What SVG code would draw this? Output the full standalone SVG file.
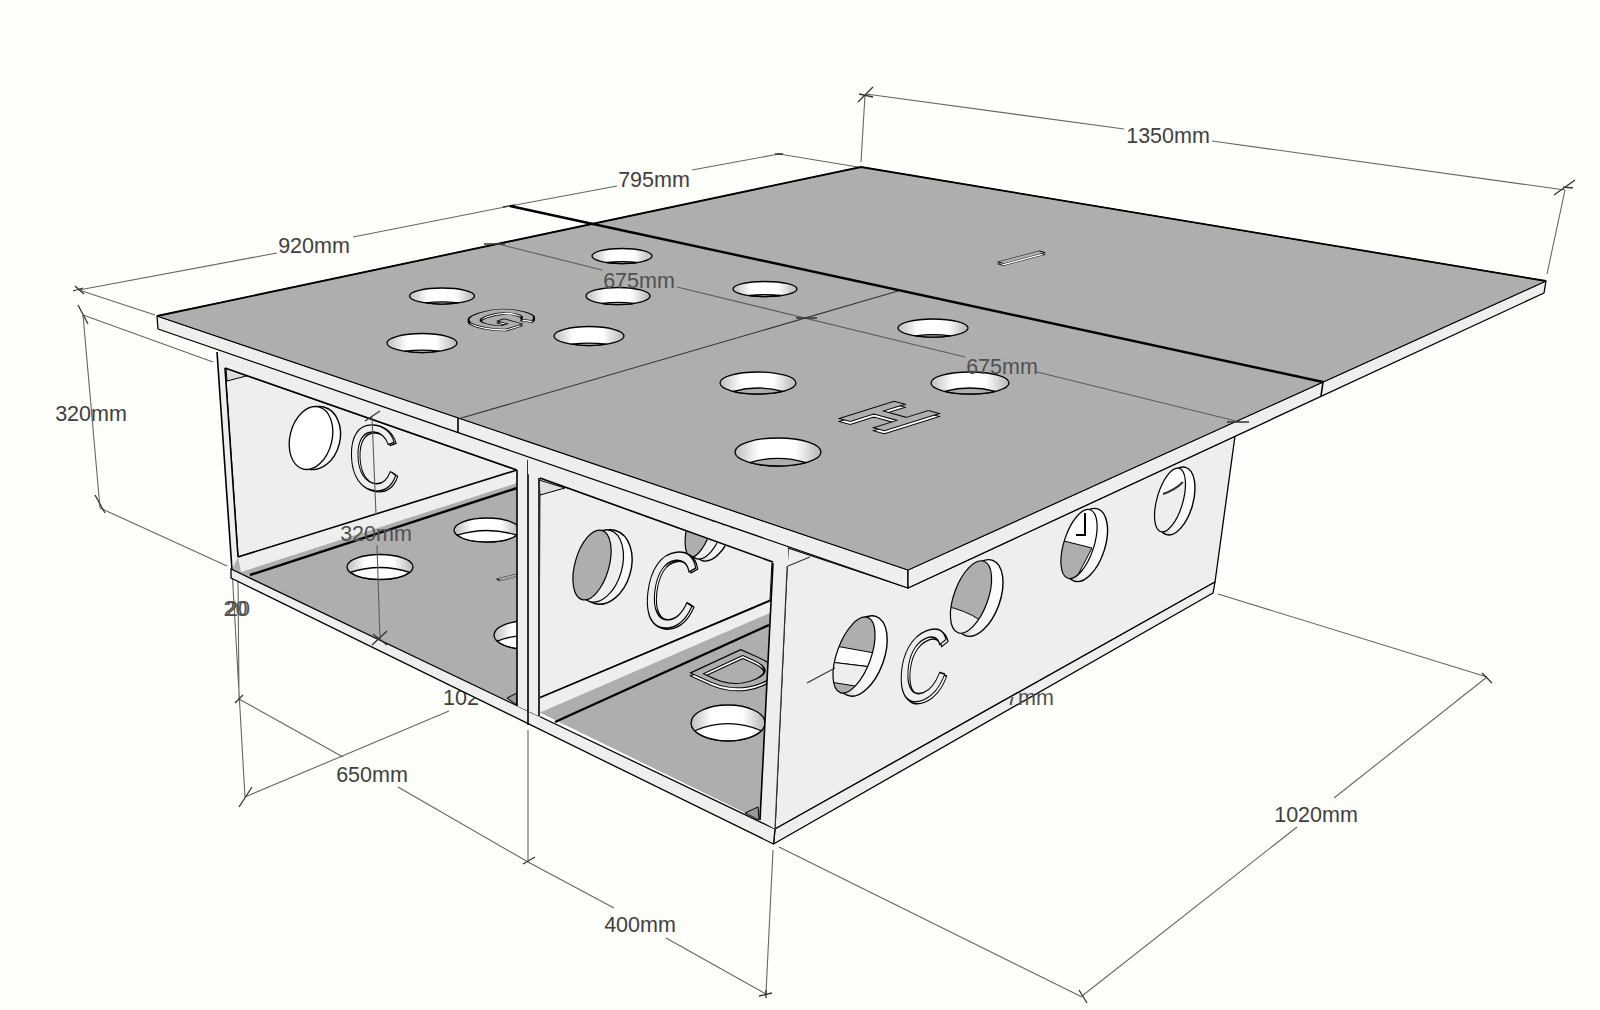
<svg xmlns="http://www.w3.org/2000/svg" width="1600" height="1010" viewBox="0 0 1600 1010">
<style>
.dim{fill:none;stroke:#666;stroke-width:1.1}
.dimo{fill:none;stroke:#5c5c5c;stroke-width:1.1}
.tick{fill:none;stroke:#333;stroke-width:1.3}
.lab{font-family:"Liberation Sans",Arial,sans-serif;font-size:21.5px;fill:#404040;text-anchor:middle}
.labo{font-family:"Liberation Sans",Arial,sans-serif;font-size:21.5px;fill:#505050;text-anchor:middle}
.lt{fill:#eee;stroke:#000;stroke-width:1.3;stroke-linejoin:round}
.fl{fill:#eee;stroke:none}
.gr{fill:#aeaeae;stroke:#000;stroke-width:1;stroke-linejoin:round}
.gn{fill:#aeaeae;stroke:none}
.bl{fill:none;stroke:#000;stroke-width:1.6}
.bk{fill:none;stroke:#000;stroke-width:2.4}
.thin{fill:none;stroke:#333;stroke-width:1.1}
.let{font-family:"Liberation Sans",Arial,sans-serif;font-size:100px;stroke:#000;stroke-width:1.5;stroke-linejoin:round}
.bd{font-weight:bold;stroke-width:2.2}
.e{vector-effect:non-scaling-stroke;stroke:#000;stroke-width:1.3}
.w{fill:url(#gw);stroke:#000;stroke-width:1.4}
</style>
<defs>
<linearGradient id="hg" x1="0" x2="1" y1="0" y2="0"><stop offset="0" stop-color="#bdbdbd"/><stop offset=".28" stop-color="#fff"/><stop offset=".7" stop-color="#fff"/><stop offset="1" stop-color="#b4b4b4"/></linearGradient>
<linearGradient id="gw" x1="0" y1="1" x2=".7" y2="0"><stop offset="0" stop-color="#8c8c8c"/><stop offset=".35" stop-color="#f2f2f2"/><stop offset="1" stop-color="#fff"/></linearGradient>
<g id="hs"><ellipse rx="1" ry="1" fill="url(#hg)" class="e"/><path d="M-.5 .866Q0 .62 .5 .866A1 1 0 0 1 -.5 .866Z" fill="#aeaeae" class="e"/></g>
<g id="hm"><ellipse rx="1" ry="1" fill="url(#hg)" class="e"/><path d="M-.65 .76Q0 .15 .65 .76A1 1 0 0 1 -.65 .76Z" fill="#aeaeae" class="e"/></g>
<g id="hf"><ellipse rx="1" ry="1" fill="url(#hg)" class="e"/><path d="M-.9 .43Q0 -.35 .9 .43A1 1 0 0 1 -.9 .43Z" fill="#fff" class="e"/></g>
<clipPath id="ca"><ellipse cx="854" cy="655" rx="17" ry="40" transform="rotate(20 854 655)"/></clipPath>
<clipPath id="cb"><ellipse cx="971" cy="597" rx="17" ry="38" transform="rotate(20 971 597)"/></clipPath>
<clipPath id="cc"><ellipse cx="1079" cy="544" rx="15" ry="36" transform="rotate(18 1079 544)"/></clipPath>
<clipPath id="cd"><ellipse cx="1170" cy="500" rx="13" ry="33" transform="rotate(16 1170 500)"/></clipPath>
<clipPath id="c7"><path d="M1008 697H1019V680H1065V712H1008Z"/></clipPath>
</defs>
<rect width="1600" height="1010" fill="#fefffb"/>

<g id="dimensions-behind">
<path class="dim" d="M79 290L277 253M353 237L510 206M510 206L617 186M692 170L779 154L858 167"/>
<path class="dim" d="M79 290L155 315M83 315L213 362M83 315L100 508M100 508L227 566"/>
<path class="dim" d="M865 95L861 162M866 94L1124 129M1212 141L1565 190M1565 190L1547 274"/>
<path class="dim" d="M232 569L245 797M238 577L239 699M239 699L343 757M398 787L528 862M528 730V862M528 862L614 908M666 938L766 994M773 850L766 993M779 847L1082 997M1082 996L1297 827M1334 798L1487 677M1218 594L1487 677M245 797L449 711"/>
<path class="tick" d="M73 291L83 288M75 286L84 294M78 305L88 324M95 495L105 513M235 703L243 695M239 807L252 787M503 207L515 205M775 154L783 154M858 102L873 87M859 94L873 97M1554 195L1575 180M1563 187L1573 188M523 864L535 857M759 996L772 993M766 990V998M1079 990L1087 1003M1482 673L1492 683"/>
<text class="lab" x="461" y="705">102</text>
</g>

<g id="model">
<path class="lt" d="M788 548L908 588L1235 436L1215 582L775 829Z"/>
<g id="wall-holes">
<ellipse class="w" cx="862" cy="656" rx="22" ry="42" transform="rotate(20 862 656)"/>
<g clip-path="url(#ca)"><rect x="830" y="610" width="60" height="90" fill="#aeaeae"/><path d="M830 645L880 654V668L830 662Z" fill="#fff" stroke="#000"/><path d="M830 662L880 668V690L830 682Z" fill="#eee" stroke="#000"/></g>
<ellipse cx="854" cy="655" rx="17" ry="40" transform="rotate(20 854 655)" fill="none" stroke="#000" stroke-width="1.2"/>
<ellipse class="w" cx="979" cy="598" rx="21" ry="40" transform="rotate(20 979 598)"/>
<g clip-path="url(#cb)"><rect x="945" y="555" width="60" height="85" fill="#aeaeae"/><path d="M945 606Q965 610 980 620L965 640H945Z" fill="#eee" stroke="#000"/></g>
<ellipse cx="971" cy="597" rx="17" ry="38" transform="rotate(20 971 597)" fill="none" stroke="#000" stroke-width="1.2"/>
<ellipse class="w" cx="1086" cy="545" rx="19" ry="38" transform="rotate(18 1086 545)"/>
<g clip-path="url(#cc)"><rect x="1060" y="505" width="50" height="80" fill="#fff"/><path d="M1060 540L1092 548L1070 590H1060Z" fill="#aeaeae" stroke="#000"/><path d="M1085 513V535H1076" fill="none" stroke="#000" stroke-width="2"/></g>
<ellipse cx="1079" cy="544" rx="15" ry="36" transform="rotate(18 1079 544)" fill="none" stroke="#000" stroke-width="1.2"/>
<ellipse class="w" cx="1176" cy="501" rx="17" ry="35" transform="rotate(16 1176 501)"/>
<g clip-path="url(#cd)"><rect x="1150" y="465" width="40" height="75" fill="#eee"/><path d="M1150 465H1190V482Q1175 488 1163 494L1150 496Z" fill="#fff"/><path d="M1163 494Q1175 490 1183 482" fill="none" stroke="#333" stroke-width="2"/></g>
<ellipse cx="1170" cy="500" rx="13" ry="33" transform="rotate(16 1170 500)" fill="none" stroke="#000" stroke-width="1.2"/>
<path class="thin" d="M807 683L835 668M788 566L810 557"/>
</g>
<text class="let" transform="matrix(.7 -.28 -.05 .98 898 712)" fill="#fff">C</text>
<text class="let" transform="matrix(.7 -.28 -.05 .98 896 710)" fill="#eee">C</text>

<path class="lt" d="M775 829L1215 582L1213 593L773.5 844Z"/>

<g id="bay-one">
<path class="gn" d="M225 368L517 470V710L232 570Z"/>
<path class="lt" d="M225 368L517 470V472L238 557Z" stroke-width="1"/>
<path fill="#ddd" stroke="#000" stroke-width="1" d="M226 368L250 375L227 381Z"/>
<ellipse class="w" cx="316" cy="438" rx="24" ry="32" transform="rotate(14 316 438)"/>
<ellipse cx="311" cy="438" rx="21" ry="32" transform="rotate(14 311 438)" fill="#fff" stroke="#000" stroke-width="1.3"/>
<text class="let" transform="matrix(.69 .05 .03 .93 351 489)" fill="#fff">C</text>
<text class="let" transform="matrix(.69 .05 .03 .93 349 488)" fill="#eee">C</text>
<path class="gn" d="M240 570L517 481V707L507 700L250 575Z"/>
<path fill="#eee" stroke="none" d="M238 557L517 470V483L241 572Z"/>
<path class="bl" d="M238 557L517 470"/>
<path class="bk" d="M250 575L517 488"/>
<use href="#hf" transform="translate(380 567) scale(33 12.5)"/>
<use href="#hf" transform="translate(487 530) scale(33 12)"/>
<use href="#hf" transform="translate(526 635) scale(32 14)"/>
<text class="let bd" transform="matrix(.25 .1 -.5 .12 495 579)" fill="#fff">I</text>
<text class="let bd" transform="matrix(.25 .1 -.5 .12 495 578)" fill="#aeaeae">I</text>
<path fill="#999" stroke="#000" d="M507 698L517 693V705Z"/>
</g>

<g id="bay-two">
<path class="gn" d="M539 478L772 562L760 820L539 712Z"/>
<path fill="#eee" stroke="#000" d="M540 478L772 562L770 600L539 698Z"/>
<path fill="#ddd" stroke="#000" stroke-width="1" d="M539 480L565 488L540 495Z"/>
<g id="back-holes">
<ellipse class="w" cx="605" cy="567" rx="26" ry="38" transform="rotate(16 605 567)"/>
<ellipse cx="600" cy="566" rx="22" ry="37" transform="rotate(16 600 566)" fill="#eee" stroke="#000" stroke-width="1.2"/>
<ellipse cx="592" cy="565" rx="17" ry="36" transform="rotate(16 592 565)" fill="#aeaeae" stroke="#000" stroke-width="1.2"/>
<ellipse class="w" cx="712" cy="526" rx="20" ry="36" transform="rotate(16 712 526)"/>
<ellipse cx="706" cy="525" rx="17" ry="35" transform="rotate(16 706 525)" fill="#eee" stroke="#000" stroke-width="1.2"/>
<ellipse cx="700" cy="524" rx="12" ry="34" transform="rotate(16 700 524)" fill="#aeaeae" stroke="#000" stroke-width="1.2"/>
</g>
<text class="let" transform="matrix(.73 -.08 -.12 1.07 642 631)" fill="#fff">C</text>
<text class="let" transform="matrix(.73 -.08 -.12 1.07 640 630)" fill="#eee">C</text>
<path class="gn" d="M539 713L770 613L760 820L539 712Z"/>
<path fill="#eee" stroke="none" d="M539 698L772 600L770 613L539 713Z"/>
<path class="bl" d="M539 698L772 600"/>
<path class="bk" d="M555 722L769 625"/>
<text class="let" transform="matrix(.8 .36 -.73 .34 684 673)" fill="#fff" style="stroke-width:1.9">D</text>
<text class="let" transform="matrix(.8 .36 -.73 .34 684 670)" fill="#aeaeae" style="stroke-width:1.9">D</text>
<use href="#hf" transform="translate(728 723) scale(37 18)"/>
<path fill="#999" stroke="#000" d="M745 813L758 807L759 820Z"/>
</g>

<path class="lt" d="M231 569L775 829L773.5 844L231 578Z"/>
<path class="bl" d="M528 711V725"/>
<path class="fl" d="M217 352L225 368L238 557L232 570Z"/>
<path class="bl" d="M217 352L232 570M225 368L238 557"/>
<path class="fl" d="M517 470H540V717L528 711L517 706Z"/>
<path class="bl" d="M517 470V706M528 460V711M539 478V716"/>
<path class="fl" d="M773 563L788 548L775 829L760 820Z"/>
<path class="bl" d="M773 563L760 820"/>
<path class="thin" d="M788 548L775 829"/>
<path class="fl" d="M217 349L527 456V473L517 470L225 368Z"/>
<path class="fl" d="M528 457L788 548V566L773 563L540 478L528 474Z"/>
<path class="bl" d="M225 368L517 470M540 478L773 562"/>

<g id="table-top">
<path class="lt" d="M157 316L908 570V588L158 329Z"/>
<path class="lt" d="M908 570L1546 281L1544 293L908 588Z"/>
<path class="gr" d="M157 316L861 167L1546 281L908 570Z"/>
<path class="thin" d="M458 419L898 291"/>
<path class="bl" d="M458 418V433M1323 382L1321 396"/>
<path class="bk" d="M510 206L593 224L1323 382"/>
<path d="M157 316L861 167L1546 281" fill="none" stroke="#000" stroke-width="1.8"/>
<use href="#hs" transform="translate(622 256) scale(30 7.5)"/>
<use href="#hs" transform="translate(442 296) scale(32.5 8)"/>
<use href="#hs" transform="translate(618 296) scale(32 8.5)"/>
<use href="#hs" transform="translate(422 343) scale(35 9.5)"/>
<use href="#hs" transform="translate(589 336) scale(35 9.5)"/>
<use href="#hs" transform="translate(765 289) scale(32 7.5)"/>
<use href="#hs" transform="translate(933 328) scale(35 9)"/>
<use href="#hm" transform="translate(758 383) scale(38 11)"/>
<use href="#hm" transform="translate(970 383) scale(39 11)"/>
<use href="#hm" transform="translate(778 452) scale(43 14)"/>
<text class="let bd" transform="matrix(.62 .17 -.64 .2 455 321)" fill="#fff">G</text>
<text class="let bd" transform="matrix(.62 .17 -.64 .2 455 319)" fill="#aeaeae">G</text>
<text class="let bd" transform="matrix(.77 .21 -.8 .25 834 420)" fill="#fff">H</text>
<text class="let bd" transform="matrix(.77 .21 -.8 .25 834 417)" fill="#aeaeae">H</text>
<text class="let bd" transform="matrix(.4 .12 -.6 .16 995 263)" fill="#fff">I</text>
<text class="let bd" transform="matrix(.4 .12 -.6 .16 995 261)" fill="#aeaeae">I</text>
</g>
</g>

<g id="dimensions-over">
<path class="dimo" d="M498 244L602 270M677 287L965 357M1037 372L1240 422M372 417L376 515M377 545L380 640"/>
<path class="tick" d="M484 244L505 244M796 318L817 318M1227 422L1249 422M365 421L380 411M373 634L387 645M372 645L387 631"/>
<text class="lab" x="1168" y="143">1350mm</text>
<text class="lab" x="654" y="187">795mm</text>
<text class="lab" x="314" y="253">920mm</text>
<text class="lab" x="91" y="421">320mm</text>
<text class="labo" x="639" y="288">675mm</text>
<text class="labo" x="1002" y="374">675mm</text>
<text class="labo" x="376" y="541">320mm</text>
<text class="labo" x="235.5" y="616">20</text>
<text class="labo" x="238" y="616">20</text>
<text class="lab" x="372" y="782">650mm</text>
<text class="lab" x="640" y="932">400mm</text>
<text class="lab" x="1316" y="822">1020mm</text>
<text class="labo" x="1030" y="705" clip-path="url(#c7)">7mm</text>
</g>
</svg>
